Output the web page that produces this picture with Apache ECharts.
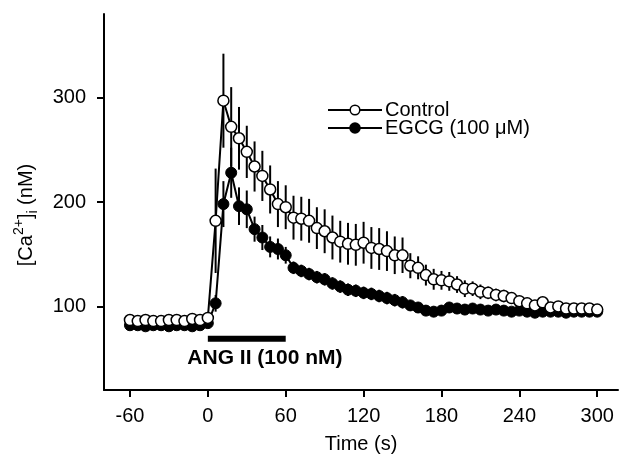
<!DOCTYPE html>
<html>
<head>
<meta charset="utf-8">
<script src="https://cdn.jsdelivr.net/npm/echarts@6/dist/echarts.min.js"></script>
<style>
  html, body { margin: 0; padding: 0; background: #fff; }
  #chart { width: 620px; height: 459px; }
</style>
</head>
<body>
<div id="chart"></div>
<script>
// time points (s)
var times = [-60, -54, -48, -42, -36, -30, -24, -18, -12, -6, 0,
  6, 12, 18, 24, 30, 36, 42, 48, 54, 60,
  66, 72, 78, 84, 90, 96, 102, 108, 114, 120,
  126, 132, 138, 144, 150, 156, 162, 168, 174, 180,
  186, 192, 198, 204, 210, 216, 222, 228, 234, 240,
  246, 252, 258, 264, 270, 276, 282, 288, 294, 300];

// Control [Ca2+]i (nM) and SE
var control = [87, 86, 87, 86, 86, 87, 87, 86, 88, 87, 89,
  182, 297, 272, 261, 248, 234, 225, 212, 198, 195,
  185, 184, 182, 175, 172, 166, 162, 160, 159, 161,
  156, 155, 153, 149, 149, 139, 137, 130, 126, 125,
  124, 121, 117, 117, 114, 113, 111, 110, 108, 105,
  103, 101, 104, 99, 100, 98, 98, 98, 98, 97];
var controlErr = [3, 3, 3, 3, 3, 3, 3, 3, 3, 3, 4,
  50, 45, 38, 30, 25, 24, 24, 23, 22, 21,
  21, 21, 21, 20, 21, 21, 20, 20, 20, 20,
  20, 20, 19, 18, 17, 12, 11, 10, 10, 9,
  9, 8, 8, 7, 7, 6, 6, 6, 5, 5,
  4, 4, 3, 3, 3, 2, 2, 2, 2, 2];

// EGCG (100 uM) [Ca2+]i (nM) and SE
var egcg = [82, 82, 81, 82, 82, 81, 82, 82, 81, 82, 84,
  103, 198, 228, 196, 193, 174, 166, 157, 155, 149,
  137, 134, 131, 128, 126, 122, 119, 116, 115, 113,
  112, 110, 108, 106, 104, 101, 99, 96, 95, 96,
  99, 98, 97, 98, 97, 96, 97, 96, 95, 96,
  95, 94, 95, 95, 95, 94, 95, 95, 95, 95];
var egcgErr = [2, 2, 2, 2, 2, 2, 2, 2, 2, 2, 2,
  8, 22, 24, 18, 18, 12, 12, 10, 10, 8,
  6, 6, 6, 6, 6, 6, 6, 6, 6, 6,
  6, 6, 6, 6, 6, 5, 5, 5, 5, 5,
  5, 5, 5, 5, 5, 4, 4, 4, 4, 4,
  4, 4, 4, 4, 4, 4, 4, 4, 4, 4];

// ANG II application (s) and where the bar sits (nM)
var stimTimes = [0, 60];
var stimLevel = 69;
var stimLabel = 'ANG II (100 nM)';

var xTicks = [-60, 0, 60, 120, 180, 240, 300];
var yTicks = [100, 200, 300];

var font = 'Liberation Sans, Arial, Helvetica, sans-serif';

function pairs(ys) {
  return times.map(function (t, i) { return [t, ys[i]]; });
}
function bars(ys, es) {
  return times.map(function (t, i) { return [t, ys[i] - es[i], ys[i] + es[i]]; });
}
function errorBars(name, data) {
  return {
    name: name,
    type: 'custom',
    z: 1,
    silent: true,
    data: data,
    encode: { x: 0, y: [1, 2] },
    renderItem: function (params, api) {
      var lo = api.coord([api.value(0), api.value(1)]);
      var hi = api.coord([api.value(0), api.value(2)]);
      return {
        type: 'line',
        shape: { x1: lo[0], y1: lo[1], x2: hi[0], y2: hi[1] },
        style: { stroke: '#000', lineWidth: 2 }
      };
    }
  };
}

var chart = echarts.init(document.getElementById('chart'), null, { renderer: 'canvas' });

var option = {
  animation: false,
  backgroundColor: '#fff',
  textStyle: { fontFamily: font, color: '#000' },
  grid: { left: 104, top: 14, width: 514, height: 381, containLabel: false },
  legend: {
    data: [
      { name: 'Control', itemStyle: { color: '#fff', borderColor: '#000', borderWidth: 1.5 } },
      { name: 'EGCG (100 μM)', itemStyle: { color: '#000' } }
    ],
    orient: 'vertical',
    left: 322,
    top: 95,
    itemWidth: 54,
    itemHeight: 12,
    itemGap: -2,
    textStyle: { fontSize: 20, lineHeight: 18, color: '#000', fontFamily: font, padding: [0, 0, 0, -2] }
  },
  xAxis: {
    type: 'value',
    min: -80,
    max: 316,
    name: 'Time (s)',
    nameLocation: 'middle',
    nameGap: 44,
    nameTextStyle: { fontSize: 20, color: '#000', fontFamily: font },
    axisLine: { onZero: false, lineStyle: { color: '#000', width: 2 } },
    axisTick: { customValues: xTicks, length: 7, lineStyle: { color: '#000', width: 2 } },
    axisLabel: { customValues: xTicks, fontSize: 20, color: '#000', margin: 16, fontFamily: font },
    splitLine: { show: false }
  },
  yAxis: {
    type: 'value',
    min: 20,
    max: 380,
    name: '{t|[Ca}{sup|2+}{t|]}{sub|i}{t| (nM)}',
    nameLocation: 'middle',
    nameRotate: 90,
    nameGap: 64,
    nameTextStyle: {
      padding: [0, 26, 0, 0],
      rich: {
        t: { fontSize: 20, color: '#000', fontFamily: font, lineHeight: 28, verticalAlign: 'middle' },
        sup: { fontSize: 14, color: '#000', fontFamily: font, lineHeight: 14, verticalAlign: 'top' },
        sub: { fontSize: 14, color: '#000', fontFamily: font, lineHeight: 14, verticalAlign: 'bottom' }
      }
    },
    axisLine: { onZero: false, lineStyle: { color: '#000', width: 2 } },
    axisTick: { customValues: yTicks, length: 7, lineStyle: { color: '#000', width: 2 } },
    axisLabel: { customValues: yTicks, fontSize: 20, color: '#000', margin: 18, fontFamily: font },
    splitLine: { show: false }
  },
  series: [
    errorBars('egcgErr', bars(egcg, egcgErr)),
    errorBars('controlErr', bars(control, controlErr)),
    {
      name: 'EGCG (100 μM)',
      type: 'line',
      z: 2,
      data: pairs(egcg),
      symbol: 'circle',
      symbolSize: 11,
      showAllSymbol: true,
      lineStyle: { color: '#000', width: 2 },
      itemStyle: { color: '#000', borderColor: '#000', borderWidth: 1 }
    },
    {
      name: 'Control',
      type: 'line',
      z: 3,
      data: pairs(control),
      symbol: 'circle',
      symbolSize: 11,
      showAllSymbol: true,
      lineStyle: { color: '#000', width: 2 },
      itemStyle: { color: '#fff', borderColor: '#000', borderWidth: 1.5 }
    },
    {
      name: 'stim',
      type: 'line',
      z: 2,
      silent: true,
      data: stimTimes.map(function (t) { return [t, stimLevel]; }),
      symbol: 'none',
      lineStyle: { color: '#000', width: 6, cap: 'butt' }
    },
    {
      name: 'stimLabel',
      type: 'scatter',
      silent: true,
      symbolSize: 0,
      itemStyle: { opacity: 1, color: '#000' },
      data: [[44, 50]],
      label: {
        show: true,
        position: 'inside',
        formatter: stimLabel,
        fontSize: 21,
        fontWeight: 'bold',
        color: '#000',
        opacity: 1,
        textBorderWidth: 0,
        fontFamily: font
      }
    }
  ]
};

chart.setOption(option);
</script>
</body>
</html>
